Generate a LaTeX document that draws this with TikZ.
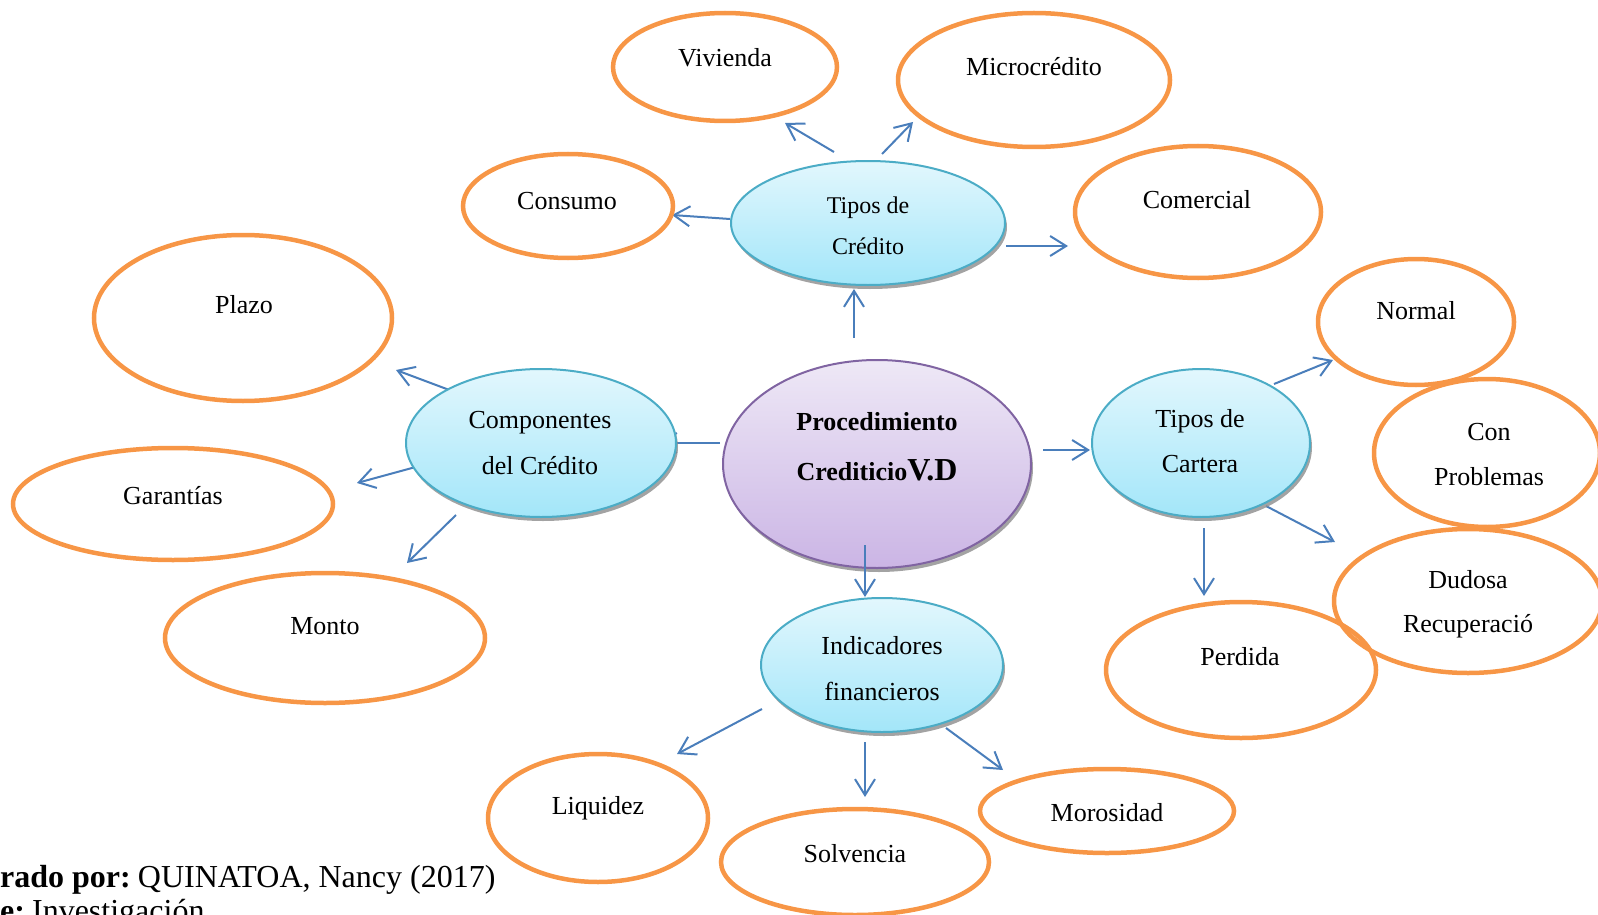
\documentclass[tikz,border=0pt]{standalone}
\usepackage{fontspec}
\setmainfont{Liberation Serif}
\usetikzlibrary{shapes.geometric,arrows.meta,shadows}
\definecolor{orng}{HTML}{F79646}
\definecolor{arr}{HTML}{4A7EBB}
\definecolor{tealb}{HTML}{4BACC6}
\definecolor{bluetop}{HTML}{E2F7FD}
\definecolor{bluebot}{HTML}{A3E6F9}
\definecolor{purb}{HTML}{8064A2}
\definecolor{purtop}{HTML}{EEE8F6}
\definecolor{purbot}{HTML}{CBB5E5}
\tikzset{
  oval/.style={ellipse, draw=orng, line width=4.5pt, inner sep=0pt},
  bluenode/.style={ellipse, draw=tealb, line width=2pt, inner sep=0pt,
    top color=bluetop, bottom color=bluebot,
    drop shadow={shadow xshift=2pt, shadow yshift=-4pt, fill=black!45, opacity=0.8}},
  centernode/.style={ellipse, draw=purb, line width=2pt, inner sep=0pt,
    top color=purtop, bottom color=purbot,
    drop shadow={shadow xshift=2pt, shadow yshift=-4pt, fill=black!45, opacity=0.8}},
  lbl/.style={anchor=base, inner sep=0pt, font=\fontsize{26}{30}\selectfont},
  srcline/.style={anchor=base west, inner sep=0pt, font=\fontsize{32}{36}\selectfont},
  conn/.style={draw=arr, line width=2pt, -{Straight Barb[length=16pt,width=20pt,line width=2pt]}}
}
\begin{document}
\begin{tikzpicture}[x=1pt,y=-1pt]
\useasboundingbox (0,0) rectangle (1598,915);
% connector end points
\coordinate (a1s) at (834,152); \coordinate (a1e) at (785,123);
\coordinate (a2s) at (882,154); \coordinate (a2e) at (913,122);
\coordinate (a3s) at (730,219); \coordinate (a3e) at (672,215);
\coordinate (a4s) at (1006,246); \coordinate (a4e) at (1068,246);
\coordinate (a5s) at (854,338); \coordinate (a5e) at (854,289);
\coordinate (a6s) at (720,443); \coordinate (a6e) at (659,443);
\coordinate (a7s) at (452,391); \coordinate (a7e) at (396,370);
\coordinate (a8s) at (423,465); \coordinate (a8e) at (357,483);
\coordinate (a9s) at (456,515); \coordinate (a9e) at (407,563);
\coordinate (b1s) at (1043,450); \coordinate (b1e) at (1090,450);
\coordinate (b2s) at (1274,384); \coordinate (b2e) at (1333,360);
\coordinate (b3s) at (1266,506); \coordinate (b3e) at (1335,542);
\coordinate (b4s) at (1204,528); \coordinate (b4e) at (1204,596);
\coordinate (c1s) at (865,545); \coordinate (c1e) at (865,597);
\coordinate (c2s) at (762,709); \coordinate (c2e) at (677,754);
\coordinate (c3s) at (865,742); \coordinate (c3e) at (865,797);
\coordinate (c4s) at (946,728); \coordinate (c4e) at (1003,770);
% connectors
\foreach \p in {a1,a2,a3,a4,a5,a6,a7,a8,a9,b1,b2,b3,b4,c2,c3,c4}
  \draw[conn] (\p s) -- (\p e);
% orange ellipses
\node[oval, minimum width=224pt, minimum height=108pt] (viv) at (725,67) {};
\node[oval, minimum width=272pt, minimum height=134pt] (mic) at (1034,80) {};
\node[oval, minimum width=210pt, minimum height=104pt] (con) at (568,206) {};
\node[oval, minimum width=246pt, minimum height=132pt] (com) at (1198,212) {};
\node[oval, minimum width=298pt, minimum height=166pt] (pla) at (243,318) {};
\node[oval, minimum width=196pt, minimum height=126pt] (nor) at (1416,322) {};
\node[oval, minimum width=226pt, minimum height=148pt] (cpr) at (1487,453) {};
\node[oval, minimum width=320pt, minimum height=112pt] (gar) at (173,504) {};
\node[oval, minimum width=268pt, minimum height=144pt] (dud) at (1468,601) {};
\node[oval, minimum width=270pt, minimum height=136pt] (per) at (1241,670) {};
\node[oval, minimum width=320pt, minimum height=130pt] (mon) at (325,638) {};
\node[oval, minimum width=220pt, minimum height=128pt] (liq) at (598,818) {};
\node[oval, minimum width=268pt, minimum height=106pt] (sol) at (855,862) {};
\node[oval, minimum width=254pt, minimum height=84pt] (mor) at (1107,811) {};
% blue ellipses and centre
\node[bluenode, minimum width=274pt, minimum height=124pt] (tc) at (868,223) {};
\node[bluenode, minimum width=270pt, minimum height=148pt] (cc) at (541,443) {};
\node[bluenode, minimum width=218pt, minimum height=148pt] (tca) at (1201,443) {};
\node[bluenode, minimum width=242pt, minimum height=134pt] (ind) at (882,665) {};
\node[centernode, minimum width=308pt, minimum height=208pt] (pc) at (877,464) {};
% connector drawn over the centre ellipse
\draw[conn] (c1s) -- (c1e);
% labels
\node[lbl] (tviv) at (725,67) {Vivienda};
\node[lbl] (tmic) at (1034,76) {Microcrédito};
\node[lbl] (tcon) at (567,209) {Consumo};
\node[lbl] (tcom) at (1197,208) {Comercial};
\node[lbl] (tpla) at (244,313) {Plazo};
\node[lbl] (tnor) at (1416,319) {Normal};
\node[lbl] (tcp1) at (1489,440) {Con};
\node[lbl] (tcp2) at (1489,485) {Problemas};
\node[lbl] (tgar) at (173,504) {Garantías};
\node[lbl] (tdu1) at (1468,588) {Dudosa};
\node[lbl] (tdu2) at (1468,632) {Recuperació};
\node[lbl] (tper) at (1240,665) {Perdida};
\node[lbl] (tmon) at (325,634) {Monto};
\node[lbl] (tliq) at (598,814) {Liquidez};
\node[lbl] (tsol) at (855,862) {Solvencia};
\node[lbl] (tmor) at (1107,821) {Morosidad};
\node[lbl, font=\fontsize{24}{28}\selectfont] (ttc1) at (868,213) {Tipos de};
\node[lbl, font=\fontsize{24}{28}\selectfont] (ttc2) at (868,254) {Crédito};
\node[lbl] (tcc1) at (540,428) {Componentes};
\node[lbl] (tcc2) at (540,474) {del Crédito};
\node[lbl] (tca1) at (1200,427) {Tipos de};
\node[lbl] (tca2) at (1200,472) {Cartera};
\node[lbl] (tin1) at (882,654) {Indicadores};
\node[lbl] (tin2) at (882,700) {financieros};
\node[lbl, font=\fontsize{26}{30}\selectfont\bfseries] (tpc1) at (877,430) {Procedimiento};
\node[lbl, font=\fontsize{26}{30}\selectfont\bfseries] (tpc2) at (877,480) {Crediticio{\fontsize{32}{36}\selectfont V.D}};
% source lines
\node[srcline] (src1) at (0,887) {\textbf{rado por:}\hspace{0.22em}QUINATOA, Nancy (2017)};
\node[srcline] (src2) at (0,921) {\textbf{e:}\hspace{0.22em}Investigación};
\end{tikzpicture}
\end{document}
